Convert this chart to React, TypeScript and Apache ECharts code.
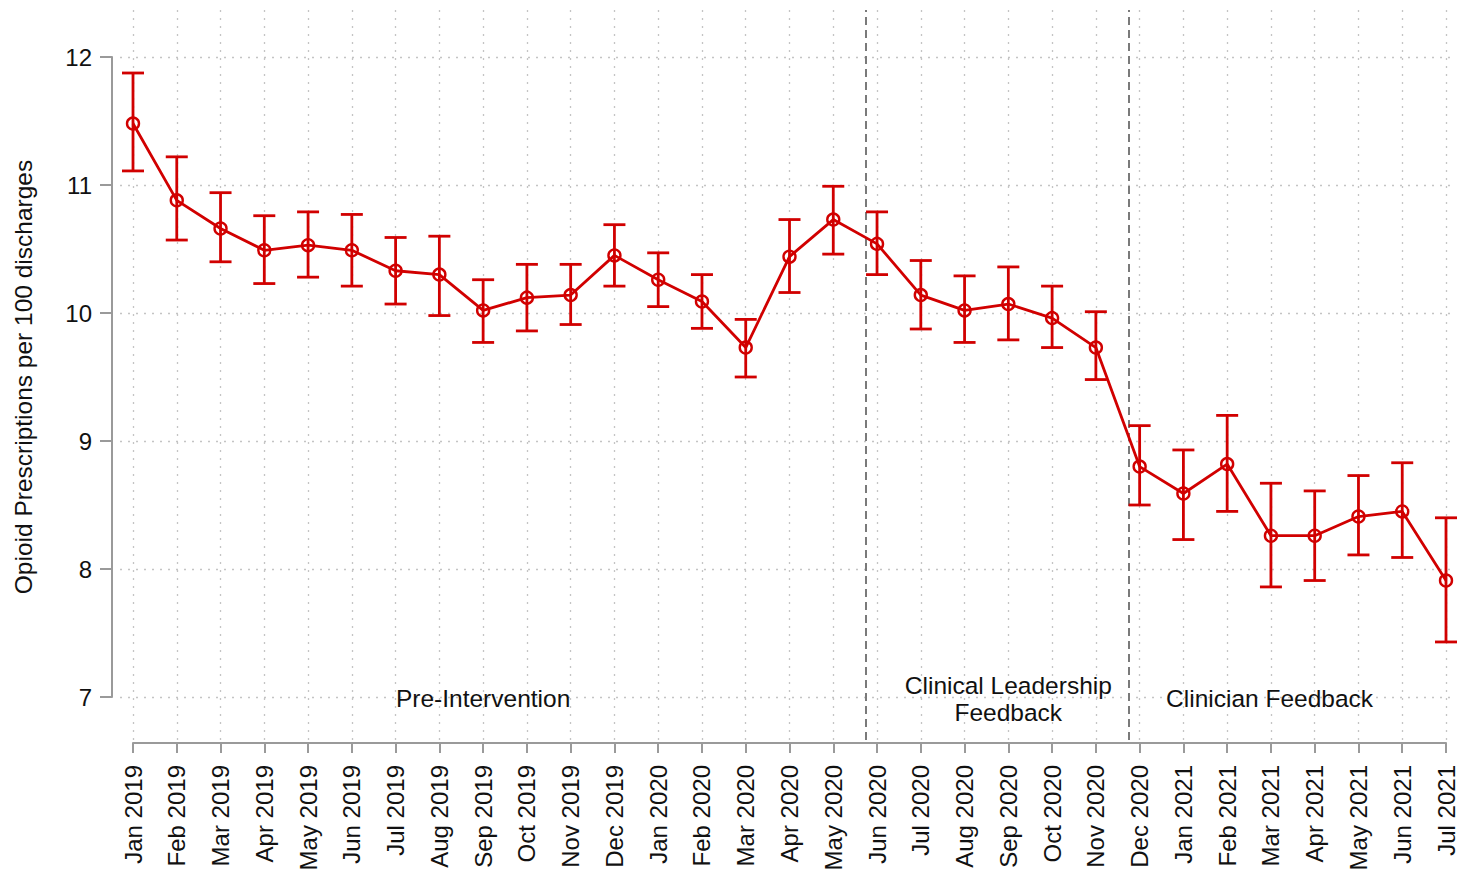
import React, { useEffect, useRef } from "react";
import * as echarts from "echarts";

const months = [
  "Jan 2019", "Feb 2019", "Mar 2019", "Apr 2019", "May 2019", "Jun 2019", "Jul 2019", "Aug 2019",
  "Sep 2019", "Oct 2019", "Nov 2019", "Dec 2019", "Jan 2020", "Feb 2020", "Mar 2020", "Apr 2020",
  "May 2020", "Jun 2020", "Jul 2020", "Aug 2020", "Sep 2020", "Oct 2020", "Nov 2020", "Dec 2020",
  "Jan 2021", "Feb 2021", "Mar 2021", "Apr 2021", "May 2021", "Jun 2021", "Jul 2021",
];
const rate = [
  11.48, 10.88, 10.66, 10.49, 10.53, 10.49, 10.33, 10.3, 10.02, 10.12, 10.14, 10.45, 10.26, 10.09, 9.73, 10.44,
  10.73, 10.54, 10.14, 10.02, 10.07, 9.96, 9.73, 8.8, 8.59, 8.82, 8.26, 8.26, 8.41, 8.45, 7.91,
];
const lower = [
  11.11, 10.57, 10.4, 10.23, 10.28, 10.21, 10.07, 9.98, 9.77, 9.86, 9.91, 10.21, 10.05, 9.88, 9.5, 10.16,
  10.46, 10.3, 9.875, 9.77, 9.79, 9.73, 9.48, 8.5, 8.23, 8.45, 7.86, 7.91, 8.11, 8.09, 7.43,
];
const upper = [
  11.875, 11.22, 10.94, 10.76, 10.79, 10.77, 10.59, 10.6, 10.26, 10.38, 10.38, 10.69, 10.47, 10.3, 9.95, 10.73,
  10.99, 10.79, 10.41, 10.29, 10.36, 10.21, 10.01, 9.12, 8.93, 9.2, 8.67, 8.61, 8.73, 8.83, 8.4,
];
const yTicks = [7, 8, 9, 10, 11, 12];
const interventionLines = [16.75, 22.75];
const phaseLabels = [
  { x: 8, y: 7, text: "Pre-Intervention" },
  { x: 20, y: 7, text: "Clinical Leadership\nFeedback" },
  { x: 25.97, y: 7, text: "Clinician Feedback" },
];

const RED = "#d10000";
const GRAY = "#9a9a9a";
const FONT = "'Liberation Sans', Arial, Helvetica, sans-serif";

export default function App() {
  const ref = useRef<HTMLDivElement>(null);
  useEffect(() => {
    document.body.style.margin = "0";
    const chart = echarts.init(ref.current!, null, { renderer: "svg" });
    const dotted = { color: "#c4c4c4", width: 1.3, type: [2, 6] as number[] };
    const option: any = {
      animation: false,
      backgroundColor: "#fff",
      textStyle: { fontFamily: FONT },
      grid: [
        { left: 120, right: 5, top: 10, bottom: 131, outerBoundsMode: "none", containLabel: false },
        { left: 133, right: 14, top: 57, bottom: 174, outerBoundsMode: "none", containLabel: false },
      ],
      xAxis: [
        {
          gridIndex: 0, type: "value", min: -0.297, max: 30.206, show: false,
          splitLine: { show: false },
        },
        {
          gridIndex: 1, type: "category", data: months, boundaryGap: false, offset: 46,
          axisLine: { show: true, lineStyle: { color: GRAY, width: 2 } },
          axisTick: { show: true, length: 10, lineStyle: { color: GRAY, width: 2 }, alignWithLabel: true },
          axisLabel: { rotate: 90, margin: 22, fontSize: 24, color: "#111", fontFamily: FONT, interval: 0 },
          splitLine: { show: false },
        },
      ],
      yAxis: [
        {
          gridIndex: 0, type: "value", min: 6.664, max: 12.367, show: false,
          splitLine: { show: false },
        },
        {
          gridIndex: 1, type: "value", min: 7, max: 12, interval: 1, offset: 21,
          name: "Opioid Prescriptions per 100 discharges",
          nameLocation: "middle", nameGap: 76,
          nameTextStyle: { fontSize: 24.5, color: "#111", fontFamily: FONT },
          axisLine: { show: true, lineStyle: { color: GRAY, width: 2 } },
          axisTick: { show: true, length: 12, lineStyle: { color: GRAY, width: 2 } },
          axisLabel: { margin: 20, fontSize: 24, color: "#111", fontFamily: FONT },
          splitLine: { show: false },
        },
      ],
      series: [
        {
          type: "line", xAxisIndex: 0, yAxisIndex: 0, data: [], silent: true, z: 0,
          markLine: {
            silent: true, symbol: "none", label: { show: false }, z: 0,
            data: [
              ...months.map((_, i) => ({ xAxis: i, lineStyle: dotted })),
              ...yTicks.map((v) => ({ yAxis: v, lineStyle: dotted })),
              ...interventionLines.map((v) => ({
                xAxis: v, lineStyle: { color: "#7a7a7a", width: 2, type: [8, 5] },
              })),
            ],
          },
        },
        {
          type: "custom", xAxisIndex: 0, yAxisIndex: 0, silent: true, z: 5,
          data: phaseLabels.map((p) => [p.x, p.y]),
          renderItem: (params: any, api: any) => {
            const c = api.coord([api.value(0), api.value(1)]);
            return {
              type: "text",
              x: c[0], y: c[1] + 2,
              style: {
                text: phaseLabels[params.dataIndex].text,
                fill: "#111", fontSize: 24.5, fontFamily: FONT, lineHeight: 27,
                align: "center", verticalAlign: "middle",
              },
            };
          },
        },
        {
          type: "custom", xAxisIndex: 1, yAxisIndex: 1, silent: true,
          data: months.map((_, i) => [i, lower[i], upper[i]]),
          encode: { x: 0, y: [1, 2] },
          renderItem: (params: any, api: any) => {
            const x = api.value(0);
            const top = api.coord([x, api.value(2)]);
            const bot = api.coord([x, api.value(1)]);
            const cw = 11;
            const style = { stroke: RED, lineWidth: 2.8 };
            return {
              type: "group",
              children: [
                { type: "line", shape: { x1: top[0], y1: top[1], x2: bot[0], y2: bot[1] }, style },
                { type: "line", shape: { x1: top[0] - cw, y1: top[1], x2: top[0] + cw, y2: top[1] }, style },
                { type: "line", shape: { x1: bot[0] - cw, y1: bot[1], x2: bot[0] + cw, y2: bot[1] }, style },
              ],
            };
          },
          z: 10,
        },
        {
          type: "line", xAxisIndex: 1, yAxisIndex: 1, data: rate, silent: true,
          symbol: "circle", symbolSize: 12,
          lineStyle: { color: RED, width: 2.8 },
          itemStyle: { color: "rgba(0,0,0,0)", borderColor: RED, borderWidth: 2.4 },
          z: 11,
        },
      ],
    };
    chart.setOption(option);
    return () => chart.dispose();
  }, []);
  return <div ref={ref} style={{ position: "absolute", left: 0, top: 0, width: 1460, height: 871 }} />;
}
